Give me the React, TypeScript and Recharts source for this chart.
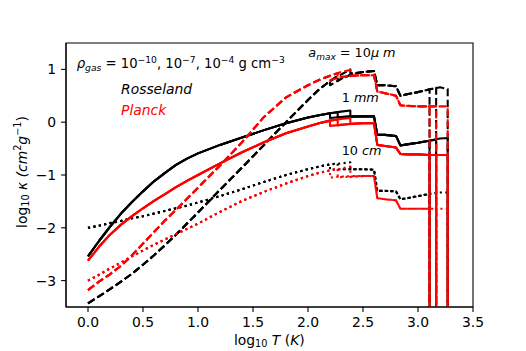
import { LineChart, Line, XAxis, YAxis, ReferenceArea } from 'recharts'

// log10 T grid for the smooth (pre-ice-evaporation) part, shared by all curves
const X_LOW = [0, 0.1, 0.2, 0.3, 0.4, 0.5, 0.6, 0.7, 0.8, 0.9, 1.0, 1.2, 1.4, 1.6, 1.8, 2.0, 2.1, 2.2]

// high-T grid per gas density (1e-10, 1e-7, 1e-4): steps at ice / organics / troilite / silicates
const X_TAIL_A = [2.2, 2.3, 2.4, 2.5, 2.6, 2.63, 2.7, 2.8, 2.84, 2.9, 3.0, 3.105, 3.105]
const X_TAIL_B = [2.27, 2.27, 2.3, 2.4, 2.5, 2.6, 2.63, 2.7, 2.8, 2.84, 2.9, 3.0, 3.1, 3.165, 3.165]
const X_TAIL_C = [2.3, 2.385, 2.385, 2.4, 2.5, 2.6, 2.63, 2.7, 2.8, 2.84, 2.9, 3.0, 3.1, 3.2, 3.27, 3.27]

// a_max = 10 micron
const ROSS_10UM_LOW = [-3.43, -3.30, -3.16, -3.02, -2.87, -2.70, -2.52, -2.33, -2.13, -1.92, -1.71, -1.28, -0.86, -0.43, 0.0, 0.42, 0.62, 0.78]
const ROSS_10UM_A = [0.70, 0.82, 0.91, 0.95, 0.97, 0.70, 0.70, 0.68, 0.50, 0.53, 0.57, 0.62, -5]
const ROSS_10UM_B = [0.88, 0.78, 0.82, 0.91, 0.95, 0.97, 0.70, 0.70, 0.68, 0.50, 0.53, 0.57, 0.62, 0.65, -5]
const ROSS_10UM_C = [0.90, 1.00, 0.92, 0.93, 0.95, 0.97, 0.70, 0.70, 0.68, 0.50, 0.53, 0.57, 0.62, 0.66, 0.63, -5]
const PLANCK_10UM_LOW = [-3.18, -3.02, -2.88, -2.72, -2.52, -2.30, -2.08, -1.86, -1.66, -1.45, -1.24, -0.82, -0.38, 0.10, 0.47, 0.70, 0.80, 0.88]
const PLANCK_10UM_A = [0.80, 0.85, 0.88, 0.89, 0.89, 0.58, 0.55, 0.50, 0.32, 0.31, 0.30, 0.30, -5]
const PLANCK_10UM_B = [0.93, 0.84, 0.86, 0.88, 0.89, 0.89, 0.58, 0.55, 0.50, 0.32, 0.31, 0.30, 0.30, 0.30, -5]
const PLANCK_10UM_C = [0.95, 0.99, 0.87, 0.88, 0.89, 0.89, 0.58, 0.55, 0.50, 0.32, 0.31, 0.30, 0.30, 0.30, 0.30, -5]

// a_max = 1 mm
const ROSS_1MM_LOW = [-2.54, -2.25, -1.98, -1.73, -1.51, -1.31, -1.12, -0.96, -0.81, -0.69, -0.59, -0.43, -0.29, -0.15, -0.02, 0.09, 0.13, 0.17]
const ROSS_1MM_A = [0.08, 0.10, 0.11, 0.11, 0.11, -0.24, -0.24, -0.26, -0.44, -0.42, -0.39, -0.35, -5]
const ROSS_1MM_B = [0.19, 0.09, 0.10, 0.11, 0.11, 0.11, -0.24, -0.24, -0.26, -0.44, -0.42, -0.39, -0.35, -0.33, -5]
const ROSS_1MM_C = [0.20, 0.22, 0.10, 0.10, 0.11, 0.11, -0.24, -0.24, -0.26, -0.44, -0.42, -0.39, -0.35, -0.31, -0.30, -5]
const PLANCK_1MM_LOW = [-2.62, -2.36, -2.13, -1.94, -1.78, -1.63, -1.49, -1.36, -1.23, -1.11, -1.00, -0.78, -0.57, -0.38, -0.21, -0.08, -0.02, 0.03]
const PLANCK_1MM_A = [-0.07, -0.05, -0.03, -0.02, -0.02, -0.43, -0.45, -0.48, -0.60, -0.61, -0.61, -0.62, -5]
const PLANCK_1MM_B = [0.05, -0.06, -0.05, -0.03, -0.02, -0.02, -0.43, -0.45, -0.48, -0.60, -0.61, -0.61, -0.62, -0.62, -5]
const PLANCK_1MM_C = [0.06, 0.08, -0.04, -0.03, -0.02, -0.02, -0.43, -0.45, -0.48, -0.60, -0.61, -0.61, -0.62, -0.62, -0.62, -5]

// a_max = 10 cm
const ROSS_10CM_LOW = [-2.00, -1.96, -1.91, -1.87, -1.82, -1.78, -1.73, -1.68, -1.63, -1.58, -1.52, -1.40, -1.27, -1.13, -1.00, -0.89, -0.84, -0.80]
const ROSS_10CM_A = [-0.90, -0.89, -0.89, -0.89, -0.90, -1.30, -1.30, -1.31, -1.46, -1.44, -1.40, -1.36, -5]
const ROSS_10CM_B = [-0.78, -0.90, -0.89, -0.89, -0.89, -0.90, -1.30, -1.30, -1.31, -1.46, -1.44, -1.40, -1.36, -1.34, -5]
const ROSS_10CM_C = [-0.78, -0.76, -0.89, -0.89, -0.89, -0.90, -1.30, -1.30, -1.31, -1.46, -1.44, -1.40, -1.36, -1.33, -1.33, -5]
const PLANCK_10CM_LOW = [-3.00, -2.89, -2.77, -2.66, -2.54, -2.43, -2.32, -2.22, -2.12, -2.02, -1.92, -1.70, -1.49, -1.32, -1.16, -1.02, -0.96, -0.91]
const PLANCK_10CM_A = [-1.05, -1.03, -1.02, -1.02, -1.02, -1.44, -1.46, -1.48, -1.64, -1.64, -1.64, -1.64, -5]
const PLANCK_10CM_B = [-0.88, -1.05, -1.04, -1.03, -1.02, -1.02, -1.44, -1.46, -1.48, -1.64, -1.64, -1.64, -1.64, -1.64, -5]
const PLANCK_10CM_C = [-0.88, -0.84, -1.04, -1.03, -1.02, -1.02, -1.44, -1.46, -1.48, -1.64, -1.64, -1.64, -1.64, -1.64, -1.64, -5]

const X_TICKS = [0, 0.5, 1.0, 1.5, 2.0, 2.5, 3.0, 3.5]
const Y_TICKS = [-3, -2, -1, 0, 1]

const TAILS_X = [X_TAIL_A, X_TAIL_B, X_TAIL_C]
const FONT = 'DejaVu Sans'
const DASHED = '7.7 3.3'
const DOTTED = '2.1 3.4'

function build(low: number[], tails: number[][]) {
  return tails.map((tail, k) => [
    ...X_LOW.map((x, i) => ({ x, y: low[i] })),
    ...TAILS_X[k].map((x, i) => ({ x, y: tail[i] })),
  ])
}

const SERIES = [
  { id: 'r10um', color: '#000000', dash: DASHED, lines: build(ROSS_10UM_LOW, [ROSS_10UM_A, ROSS_10UM_B, ROSS_10UM_C]) },
  { id: 'r1mm', color: '#000000', dash: undefined, lines: build(ROSS_1MM_LOW, [ROSS_1MM_A, ROSS_1MM_B, ROSS_1MM_C]) },
  { id: 'r10cm', color: '#000000', dash: DOTTED, lines: build(ROSS_10CM_LOW, [ROSS_10CM_A, ROSS_10CM_B, ROSS_10CM_C]) },
  { id: 'p10um', color: '#ff0000', dash: DASHED, lines: build(PLANCK_10UM_LOW, [PLANCK_10UM_A, PLANCK_10UM_B, PLANCK_10UM_C]) },
  { id: 'p1mm', color: '#ff0000', dash: undefined, lines: build(PLANCK_1MM_LOW, [PLANCK_1MM_A, PLANCK_1MM_B, PLANCK_1MM_C]) },
  { id: 'p10cm', color: '#ff0000', dash: DOTTED, lines: build(PLANCK_10CM_LOW, [PLANCK_10CM_A, PLANCK_10CM_B, PLANCK_10CM_C]) },
]

const fmtY = (v: number) => (v < 0 ? `\u2212${Math.abs(v)}` : `${v}`)
const tickStyle = { fill: '#000', fontSize: 13.9, fontFamily: FONT }
const spine = { stroke: '#000', strokeWidth: 1.1 }

export default function App() {
  return (
    <div style={{ position: 'fixed', left: 0, top: 0, width: 526, height: 351, background: '#fff' }}>
      <LineChart width={526} height={351} margin={{ top: 43, right: 53, left: 0, bottom: 0 }}>
        <XAxis
          xAxisId="main" dataKey="x" type="number" domain={[-0.2, 3.5]} allowDataOverflow
          ticks={X_TICKS} interval={0} tickFormatter={(v: number) => v.toFixed(1)}
          height={44} tickSize={4.9} tickMargin={4.9} tick={tickStyle} tickLine={spine} axisLine={spine}
        />
        <YAxis
          yAxisId="main" type="number" domain={[-3.5, 1.5]} allowDataOverflow
          ticks={Y_TICKS} interval={0} tickFormatter={fmtY}
          width={66} tickSize={4.9} tickMargin={4.9} tick={tickStyle} tickLine={spine} axisLine={spine}
        />
        {SERIES.flatMap((s) =>
          s.lines.map((pts, k) => (
            <Line
              key={`${s.id}-${k}`}
              xAxisId="main" yAxisId="main"
              data={pts} dataKey="y" type="linear"
              stroke={s.color} strokeWidth={2.08} strokeDasharray={s.dash}
              strokeLinejoin="round"
              dot={false} activeDot={false} isAnimationActive={false}
            />
          ))
        )}
        <ReferenceArea
          xAxisId="main" yAxisId="main" x1={-0.2} x2={3.5} y1={-3.5} y2={1.5}
          fill="none" fillOpacity={0} stroke="#000" strokeWidth={1.1} ifOverflow="visible"
        />
      </LineChart>
      <svg width={526} height={351} style={{ position: 'absolute', left: 0, top: 0, pointerEvents: 'none' }} fontFamily={FONT}>
        <text x={76.7} y={68.3} fontSize={13.2} fill="#000">
          <tspan fontStyle="italic">ρ</tspan>
          <tspan fontSize={9.2} fontStyle="italic" dy={2.8}>gas</tspan>
          <tspan dy={-2.8}> = 10</tspan>
          <tspan fontSize={9.2} dy={-5.4}>−10</tspan>
          <tspan dy={5.4}>,  10</tspan>
          <tspan fontSize={9.2} dy={-5.4}>−7</tspan>
          <tspan dy={5.4}>,  10</tspan>
          <tspan fontSize={9.2} dy={-5.4}>−4</tspan>
          <tspan dy={5.4}> g cm</tspan>
          <tspan fontSize={9.2} dy={-5.4}>−3</tspan>
        </text>
        <text x={121} y={94.3} fontSize={13.9} fontStyle="italic" fill="#000">Rosseland</text>
        <text x={121} y={114.8} fontSize={13.9} fontStyle="italic" fill="#ff0000">Planck</text>
        <text x={308.3} y={57.3} fontSize={12.8} fill="#000">
          <tspan fontStyle="italic">a</tspan>
          <tspan fontSize={9} fontStyle="italic" dy={2.6}>max</tspan>
          <tspan dy={-2.6}> = 10</tspan>
          <tspan fontStyle="italic">μ m</tspan>
        </text>
        <text x={341.7} y={101.7} fontSize={12.8} fill="#000">
          1 <tspan fontStyle="italic">mm</tspan>
        </text>
        <text x={341.7} y={155} fontSize={12.8} fill="#000">
          10 <tspan fontStyle="italic">cm</tspan>
        </text>
        <text x={269.3} y={344.5} fontSize={13.9} fill="#000" textAnchor="middle">
          log<tspan fontSize={9.7} dy={2.8}>10</tspan>
          <tspan dy={-2.8} fontStyle="italic"> T</tspan> (<tspan fontStyle="italic">K</tspan>)
        </text>
        <text transform="translate(26.5,172) rotate(-90)" fontSize={13.9} fill="#000" textAnchor="middle">
          log<tspan fontSize={9.7} dy={2.8}>10</tspan>
          <tspan dy={-2.8} fontStyle="italic"> κ (cm</tspan>
          <tspan fontSize={9.7} dy={-5.5}>2</tspan>
          <tspan dy={5.5} fontStyle="italic">g</tspan>
          <tspan fontSize={9.7} dy={-5.5}>−1</tspan>
          <tspan dy={5.5}>)</tspan>
        </text>
      </svg>
    </div>
  )
}
